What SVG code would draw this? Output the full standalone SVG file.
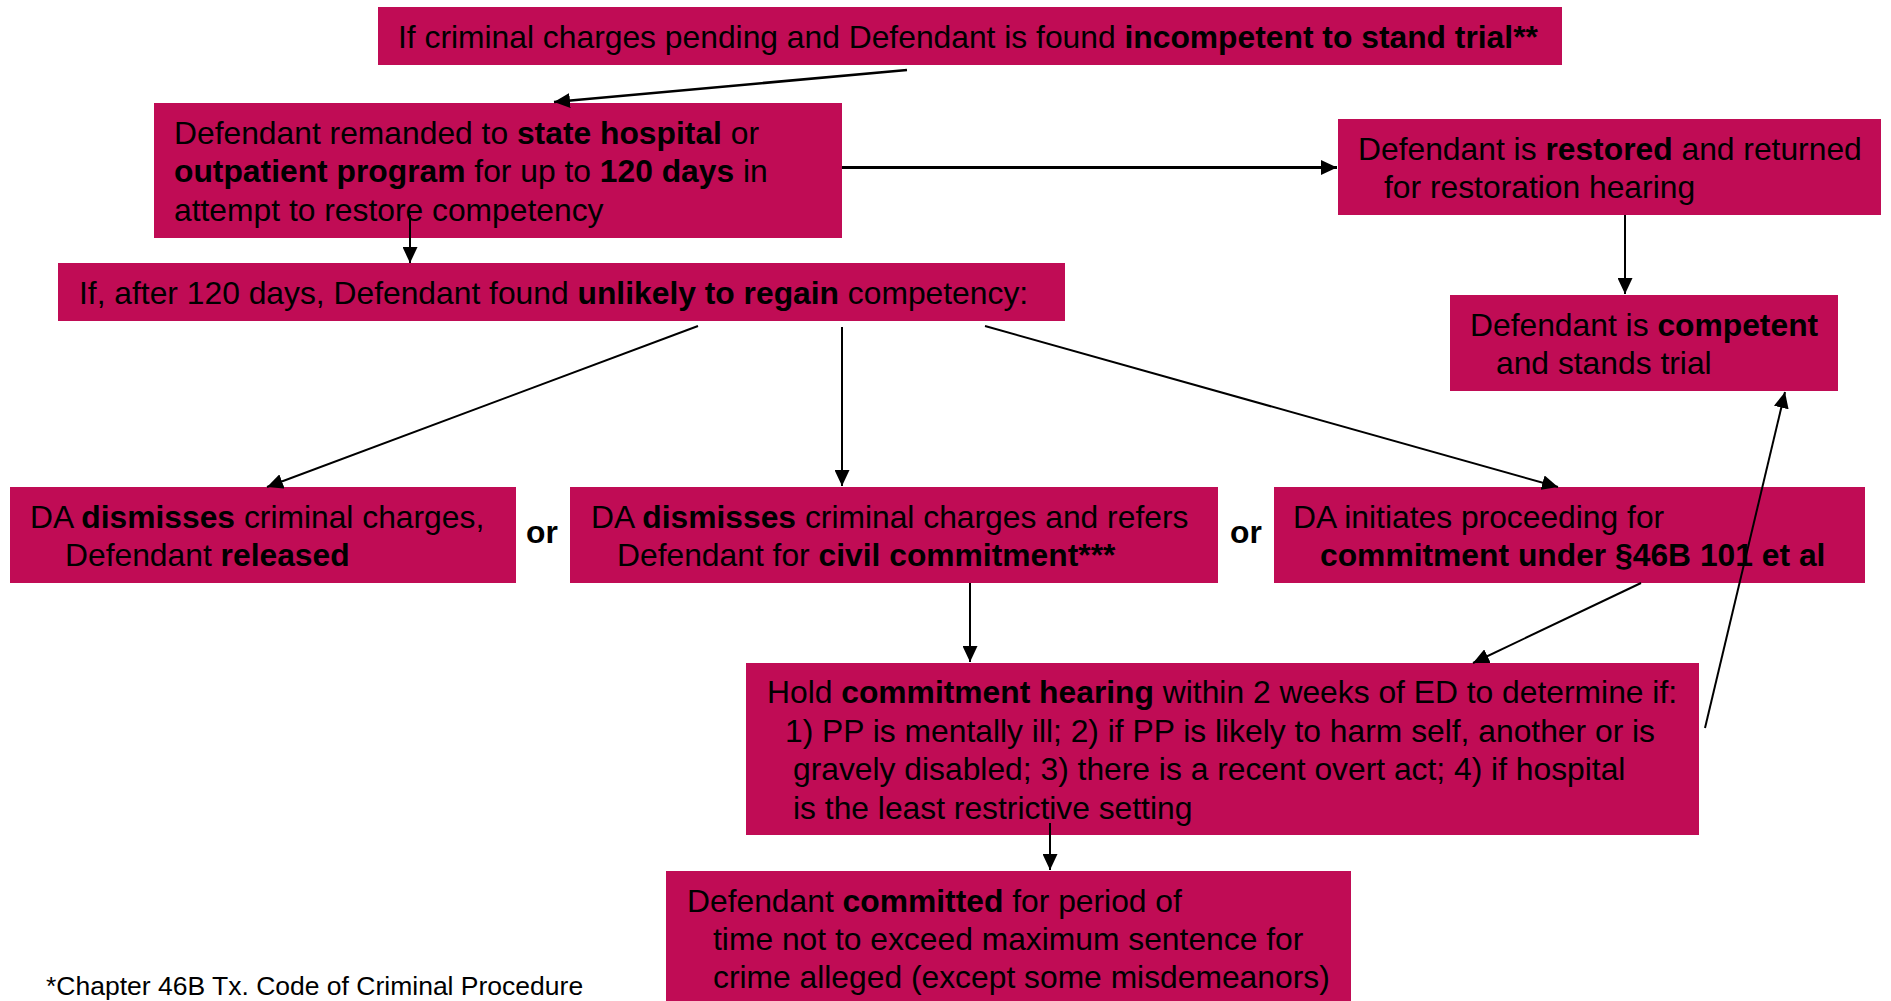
<svg xmlns="http://www.w3.org/2000/svg" width="1891" height="1001" viewBox="0 0 1891 1001">
<style>
  .box { fill: #C00C55; }
  text { font-family: "Liberation Sans", Arial, sans-serif; font-size: 31.8px; fill: #000; }
  .b { font-weight: bold; }
  .foot { font-size: 26.5px; }
  .con { stroke: #000; stroke-width: 2; fill: none; }
</style>
<defs>
  <marker id="ah" markerUnits="userSpaceOnUse" markerWidth="16" markerHeight="15" refX="16" refY="7.5" orient="auto">
    <path d="M0,0 L16,7.5 L0,15 Z" fill="#000"/>
  </marker>
</defs>
<rect width="1891" height="1001" fill="#fff"/>

<g id="n-incompetent">
  <rect class="box" x="378" y="7" width="1184" height="58"/>
  <text x="398" y="48">If criminal charges pending and Defendant is found <tspan class="b">incompetent to stand trial**</tspan></text>
</g>
<g id="n-remanded">
  <rect class="box" x="154" y="103" width="688" height="135"/>
  <text x="174" y="143.5">Defendant remanded to <tspan class="b">state hospital</tspan> or</text>
  <text x="174" y="182">
<tspan class="b">outpatient program</tspan> for up to <tspan class="b">120 days</tspan> in</text>
  <text x="174" y="220.5">attempt to restore competency</text>
</g>
<g id="n-restored">
  <rect class="box" x="1338" y="119" width="543" height="96"/>
  <text x="1358" y="159.5">Defendant is <tspan class="b">restored</tspan> and returned</text>
  <text x="1384" y="198">for restoration hearing</text>
</g>
<g id="n-unlikely">
  <rect class="box" x="58" y="263" width="1007" height="58"/>
  <text x="79" y="303.5">If, after 120 days, Defendant found <tspan class="b">unlikely to regain</tspan> competency:</text>
</g>
<g id="n-competent">
  <rect class="box" x="1450" y="295" width="388" height="96"/>
  <text x="1470" y="335.5">Defendant is <tspan class="b">competent</tspan></text>
  <text x="1496" y="373.5">and stands trial</text>
</g>
<g id="n-released">
  <rect class="box" x="10" y="487" width="506" height="96"/>
  <text x="30" y="528">DA <tspan class="b">dismisses</tspan> criminal charges,</text>
  <text x="65" y="565.5">Defendant <tspan class="b">released</tspan></text>
</g>
<g id="or-1">
  <text class="b" x="526" y="543">or</text>
</g>
<g id="n-civil">
  <rect class="box" x="570" y="487" width="648" height="96"/>
  <text x="591" y="528">DA <tspan class="b">dismisses</tspan> criminal charges and refers</text>
  <text x="617" y="565.5">Defendant for <tspan class="b">civil commitment***</tspan></text>
</g>
<g id="or-2">
  <text class="b" x="1230" y="543">or</text>
</g>
<g id="n-46b">
  <rect class="box" x="1274" y="487" width="591" height="96"/>
  <text x="1293" y="528">DA initiates proceeding for</text>
  <text x="1320" y="565.5" class="b">commitment under §46B 101 et al</text>
</g>
<g id="n-hearing">
  <rect class="box" x="746" y="663" width="953" height="172"/>
  <text x="767" y="703">Hold <tspan class="b">commitment hearing</tspan> within 2 weeks of ED to determine if:</text>
  <text x="785" y="741.5">1) PP is mentally ill; 2) if PP is likely to harm self, another or is</text>
  <text x="793" y="780">gravely disabled; 3) there is a recent overt act; 4) if hospital</text>
  <text x="793" y="818.5">is the least restrictive setting</text>
</g>
<g id="n-committed">
  <rect class="box" x="666" y="871" width="685" height="140"/>
  <text x="687" y="912">Defendant <tspan class="b">committed</tspan> for period of</text>
  <text x="713" y="950">time not to exceed maximum sentence for</text>
  <text x="713" y="988">crime alleged (except some misdemeanors)</text>
</g>
<g id="footnote">
  <text class="foot" x="46" y="995">*Chapter 46B Tx. Code of Criminal Procedure</text>
</g>

<g id="connectors">
  <line class="con" style="stroke-width:2.6" x1="907" y1="70" x2="554" y2="102" marker-end="url(#ah)"/>
  <line class="con" style="stroke-width:3" x1="842" y1="167.5" x2="1337" y2="167.5" marker-end="url(#ah)"/>
  <line class="con" x1="410" y1="215" x2="410" y2="263" marker-end="url(#ah)"/>
  <line class="con" x1="1625" y1="215" x2="1625" y2="294" marker-end="url(#ah)"/>
  <line class="con" x1="698" y1="326" x2="267" y2="487" marker-end="url(#ah)"/>
  <line class="con" x1="842" y1="327" x2="842" y2="486" marker-end="url(#ah)"/>
  <line class="con" x1="985" y1="326" x2="1558" y2="487" marker-end="url(#ah)"/>
  <line class="con" x1="970" y1="583" x2="970" y2="662" marker-end="url(#ah)"/>
  <line class="con" x1="1641" y1="583" x2="1473" y2="663" marker-end="url(#ah)"/>
  <line class="con" x1="1705" y1="728" x2="1785" y2="392" marker-end="url(#ah)"/>
  <line class="con" x1="1050" y1="823" x2="1050" y2="870" marker-end="url(#ah)"/>
</g>
</svg>
